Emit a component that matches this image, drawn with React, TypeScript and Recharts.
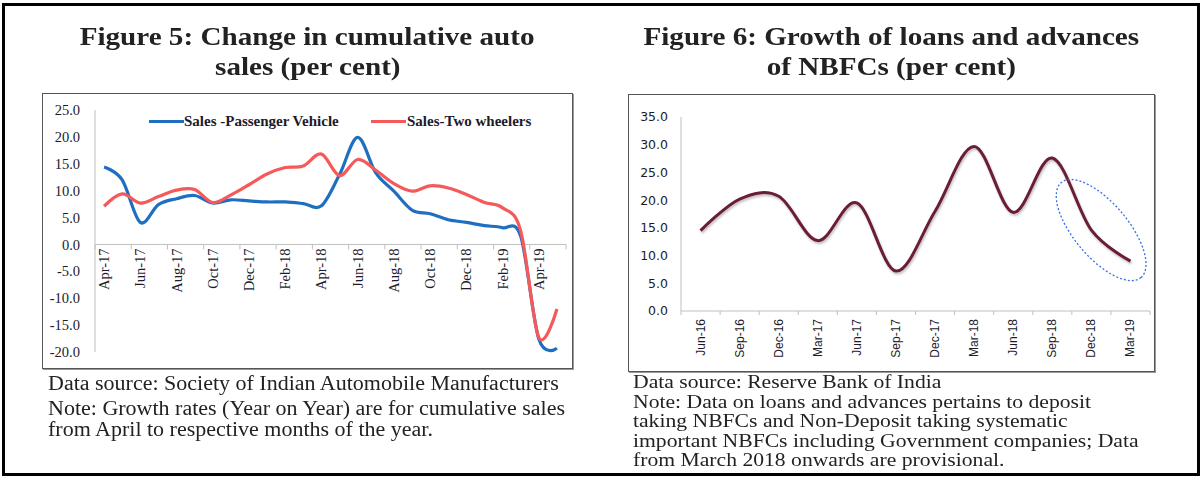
import React from 'react'
import { LineChart, Line, XAxis, YAxis, ReferenceLine, ReferenceDot } from 'recharts'

// Figure 5: cumulative auto sales growth, monthly
const autoMonths = [
  'Apr-17', 'May-17', 'Jun-17', 'Jul-17', 'Aug-17', 'Sep-17', 'Oct-17', 'Nov-17', 'Dec-17',
  'Jan-18', 'Feb-18', 'Mar-18', 'Apr-18', 'May-18', 'Jun-18', 'Jul-18', 'Aug-18', 'Sep-18',
  'Oct-18', 'Nov-18', 'Dec-18', 'Jan-19', 'Feb-19', 'Mar-19', 'Apr-19', 'May-19',
]
const passengerVehicle = [
  14.4, 12.0, 4.1, 7.4, 8.5, 9.1, 7.7, 8.3, 8.1, 7.9, 7.9, 7.6, 7.2,
  13.0, 19.9, 13.3, 9.9, 6.4, 5.7, 4.6, 4.1, 3.5, 3.1, 1.5, -17.6, -19.3,
]
const twoWheelers = [
  7.1, 9.4, 7.7, 8.9, 10.1, 10.2, 7.8, 9.2, 11.1, 13.1, 14.3, 14.6, 16.8,
  12.8, 15.8, 13.8, 11.3, 9.9, 10.9, 10.5, 9.3, 7.8, 6.8, 2.5, -17.3, -12.0,
]
const autoSeries = ['Sales -Passenger Vehicle', 'Sales-Two wheelers']
const autoYTicks = [-20, -15, -10, -5, 0, 5, 10, 15, 20, 25]

// Figure 6: NBFC loans and advances growth, quarterly
const nbfcQuarters = [
  'Jun-16', 'Sep-16', 'Dec-16', 'Mar-17', 'Jun-17', 'Sep-17',
  'Dec-17', 'Mar-18', 'Jun-18', 'Sep-18', 'Dec-18', 'Mar-19',
]
const nbfcGrowth = [14.5, 20.2, 20.7, 12.7, 19.5, 7.2, 18.0, 29.7, 17.8, 27.6, 14.6, 9.0]
const nbfcYTicks = [0, 5, 10, 15, 20, 25, 30, 35]

const autoData = autoMonths.map((m, i) => ({
  pos: i + 0.5,
  month: m,
  pv: passengerVehicle[i],
  tw: twoWheelers[i],
}))
const nbfcData = nbfcQuarters.map((q, i) => ({ pos: i + 0.5, quarter: q, growth: nbfcGrowth[i] }))

// Excel-like smoothed line (Catmull-Rom / cardinal with zero tension)
class SmoothCurve {
  _context: any
  _line = NaN
  _point = 0
  _x0 = NaN; _x1 = NaN; _x2 = NaN
  _y0 = NaN; _y1 = NaN; _y2 = NaN
  constructor(context: any) {
    this._context = context
  }
  areaStart() { this._line = 0 }
  areaEnd() { this._line = NaN }
  lineStart() {
    this._x0 = this._x1 = this._x2 = this._y0 = this._y1 = this._y2 = NaN
    this._point = 0
  }
  _bez(x: number, y: number) {
    const k = 1 / 6
    this._context.bezierCurveTo(
      this._x1 + k * (this._x2 - this._x0),
      this._y1 + k * (this._y2 - this._y0),
      this._x2 + k * (this._x1 - x),
      this._y2 + k * (this._y1 - y),
      this._x2,
      this._y2,
    )
  }
  lineEnd() {
    if (this._point === 2) this._context.lineTo(this._x2, this._y2)
    else if (this._point === 3) this._bez(this._x1, this._y1)
    if (this._line || (this._line !== 0 && this._point === 1)) this._context.closePath()
    this._line = 1 - this._line
  }
  point(x: number, y: number) {
    x = +x; y = +y
    if (this._point === 0) {
      this._point = 1
      this._line ? this._context.lineTo(x, y) : this._context.moveTo(x, y)
    } else if (this._point === 1) {
      this._point = 2
      this._x1 = x; this._y1 = y
    } else {
      if (this._point === 2) this._point = 3
      this._bez(x, y)
    }
    this._x0 = this._x1; this._x1 = this._x2; this._x2 = x
    this._y0 = this._y1; this._y1 = this._y2; this._y2 = y
  }
}
const smooth: any = (context: any) => new SmoothCurve(context)

const AXIS_GREY = '#BFBFBF'
const TEXT = '#1b1b2b'

// left chart geometry
const L_W = 529
const L_H = 274
const L_MARGIN = { top: 16, right: 6, bottom: 15, left: 8 }
const L_XAXIS_H = 1
const L_PLOT_H = L_H - L_MARGIN.top - L_MARGIN.bottom - L_XAXIS_H
const L_ZERO_Y = L_MARGIN.top + (L_PLOT_H * 25) / 45

const autoTicks: number[] = []
for (let i = 0; i <= autoMonths.length; i += 2) autoTicks.push(i)
for (let i = 0; i < autoMonths.length; i += 2) autoTicks.push(i + 0.5)

function AutoTick(props: any) {
  const { x, payload } = props
  const v = payload.value
  if (Number.isInteger(v)) {
    return <line x1={x} x2={x} y1={L_ZERO_Y} y2={L_ZERO_Y + 5} stroke={AXIS_GREY} />
  }
  const y = L_ZERO_Y + 4
  return (
    <text
      x={x}
      y={y}
      transform={`rotate(-90 ${x} ${y})`}
      textAnchor="end"
      dominantBaseline="central"
      fontFamily="'Liberation Serif', serif"
      fontSize={14.5}
      fill={TEXT}
    >
      {autoMonths[Math.floor(v)]}
    </text>
  )
}

// right chart geometry
const R_W = 525
const R_H = 276
const R_MARGIN = { top: 22, right: 4, bottom: 1, left: 6 }
const R_XAXIS_H = 59
const R_AXIS_Y = R_H - R_MARGIN.bottom - R_XAXIS_H

const nbfcTicks: number[] = []
for (let i = 0; i <= nbfcQuarters.length; i++) nbfcTicks.push(i)
for (let i = 0; i < nbfcQuarters.length; i++) nbfcTicks.push(i + 0.5)

function NbfcTick(props: any) {
  const { x, payload } = props
  const v = payload.value
  if (Number.isInteger(v)) {
    return <line x1={x} x2={x} y1={R_AXIS_Y} y2={R_AXIS_Y + 4} stroke={AXIS_GREY} />
  }
  const y = R_AXIS_Y + 8
  return (
    <text
      x={x}
      y={y}
      transform={`rotate(-90 ${x} ${y})`}
      textAnchor="end"
      dominantBaseline="central"
      fontFamily="'Liberation Sans', Arial, sans-serif"
      fontSize={12}
      fill={TEXT}
    >
      {nbfcQuarters[Math.floor(v)]}
    </text>
  )
}

const titleStyle: React.CSSProperties = {
  position: 'absolute',
  top: 22,
  textAlign: 'center',
  fontFamily: "'Liberation Serif', 'Times New Roman', serif",
  fontWeight: 'bold',
  fontSize: 26,
  lineHeight: '30px',
  color: '#222',
  whiteSpace: 'nowrap',
}

const boxStyle: React.CSSProperties = {
  position: 'absolute',
  border: '1px solid #555',
  boxShadow: '1px 1px 0 #999',
  background: '#fff',
}

function Stretched({ k, children }: { k: number; children: React.ReactNode }) {
  return <span style={{ display: 'inline-block', transform: `scaleX(${k})` }}>{children}</span>
}

const legendText: React.CSSProperties = {
  position: 'absolute',
  top: 18,
  fontFamily: "'Liberation Serif', serif",
  fontWeight: 'bold',
  fontSize: 15,
  lineHeight: '18px',
  color: TEXT,
  whiteSpace: 'nowrap',
}
const legendSwatch: React.CSSProperties = { position: 'absolute', top: 26, width: 35, height: 3 }

export default function App() {
  return (
    <div style={{ position: 'absolute', left: 0, top: 0, width: 1201, height: 479, background: '#fff' }}>
      <div
        style={{
          position: 'absolute', left: 2, top: 3, width: 1198, height: 473,
          border: '3px solid #000', boxSizing: 'border-box',
        }}
      />

      <div style={{ ...titleStyle, left: 42, width: 531 }}>
        <Stretched k={1.12}>Figure 5: Change in cumulative auto</Stretched>
        <br />
        <Stretched k={1.12}>sales (per cent)</Stretched>
      </div>
      <div style={{ ...titleStyle, left: 628, width: 527 }}>
        <Stretched k={1.12}>Figure 6: Growth of loans and advances</Stretched>
        <br />
        <Stretched k={1.12}>of NBFCs (per cent)</Stretched>
      </div>

      {/* Figure 5 */}
      <div style={{ ...boxStyle, left: 42, top: 93, width: L_W, height: L_H }}>
        <LineChart width={L_W} height={L_H} data={autoData} margin={L_MARGIN}>
          <XAxis
            dataKey="pos"
            type="number"
            domain={[0, autoMonths.length]}
            ticks={autoTicks}
            interval={0}
            height={L_XAXIS_H}
            axisLine={false}
            tickLine={false}
            tick={(p: any) => <AutoTick {...p} />}
          />
          <YAxis
            domain={[-20, 25]}
            ticks={autoYTicks}
            interval={0}
            width={44}
            axisLine={{ stroke: AXIS_GREY }}
            tickLine={false}
            tickMargin={9}
            tickFormatter={(v: number) => v.toFixed(1)}
            tick={{ fontFamily: "'Liberation Serif', serif", fontSize: 14.5, fill: TEXT }}
          />
          <ReferenceLine y={0} stroke={AXIS_GREY} />
          <Line
            dataKey="pv"
            name={autoSeries[0]}
            type={smooth}
            stroke="#1f6fc1"
            strokeWidth={3.2}
            dot={false}
            activeDot={false}
            isAnimationActive={false}
          />
          <Line
            dataKey="tw"
            name={autoSeries[1]}
            type={smooth}
            stroke="#f5595a"
            strokeWidth={3.2}
            dot={false}
            activeDot={false}
            isAnimationActive={false}
          />
        </LineChart>
        <span style={{ ...legendSwatch, left: 106, background: '#1f6fc1' }} />
        <span style={{ ...legendText, left: 141 }}>{autoSeries[0]}</span>
        <span style={{ ...legendSwatch, left: 328, background: '#f5595a' }} />
        <span style={{ ...legendText, left: 364 }}>{autoSeries[1]}</span>
      </div>

      {/* Figure 6 */}
      <div style={{ ...boxStyle, left: 628, top: 94, width: R_W, height: R_H }}>
        <LineChart width={R_W} height={R_H} data={nbfcData} margin={R_MARGIN}>
          <XAxis
            dataKey="pos"
            type="number"
            domain={[0, nbfcQuarters.length]}
            ticks={nbfcTicks}
            interval={0}
            height={R_XAXIS_H}
            axisLine={{ stroke: AXIS_GREY }}
            tickLine={false}
            tick={(p: any) => <NbfcTick {...p} />}
          />
          <YAxis
            domain={[0, 35]}
            ticks={nbfcYTicks}
            interval={0}
            width={46}
            axisLine={{ stroke: AXIS_GREY }}
            tickLine={false}
            tickMargin={7}
            tickFormatter={(v: number) => v.toFixed(1)}
            tick={{ fontFamily: "'DejaVu Sans', sans-serif", fontSize: 12.5, fill: TEXT }}
          />
          <Line
            dataKey="growth"
            type={smooth}
            stroke="#6b1d34"
            strokeWidth={3}
            dot={false}
            activeDot={false}
            isAnimationActive={false}
            style={{ filter: 'drop-shadow(1px 2px 1px rgba(0,0,0,0.25))' }}
          />
          <ReferenceDot
            x={10.75}
            y={14.6}
            r={0}
            ifOverflow="visible"
            shape={(p: any) => (
              <ellipse
                cx={p.cx}
                cy={p.cy}
                rx={62}
                ry={27}
                transform={`rotate(50 ${p.cx} ${p.cy})`}
                fill="none"
                stroke="#3b6fe6"
                strokeWidth={1.3}
                strokeDasharray="2 2"
              />
            )}
          />
        </LineChart>
      </div>

      <div
        style={{
          position: 'absolute', left: 48, top: 373, whiteSpace: 'nowrap', transformOrigin: 'left top',
          transform: 'scaleX(1.1)', fontFamily: "'Liberation Serif', serif", fontSize: 20,
          lineHeight: '21px', color: '#222',
        }}
      >
        Data source: Society of Indian Automobile Manufacturers
        <div style={{ marginTop: 4 }}>
          Note: Growth rates (Year on Year) are for cumulative sales<br />
          from April to respective months of the year.
        </div>
      </div>
      <div
        style={{
          position: 'absolute', left: 633, top: 373, whiteSpace: 'nowrap', transformOrigin: 'left top',
          transform: 'scaleX(1.17)', fontFamily: "'Liberation Serif', serif", fontSize: 18.5,
          lineHeight: '19.5px', color: '#222',
        }}
      >
        Data source: Reserve Bank of India<br />
        Note: Data on loans and advances pertains to deposit<br />
        taking NBFCs and Non-Deposit taking systematic<br />
        important NBFCs including Government companies; Data<br />
        from March 2018 onwards are provisional.
      </div>
    </div>
  )
}
